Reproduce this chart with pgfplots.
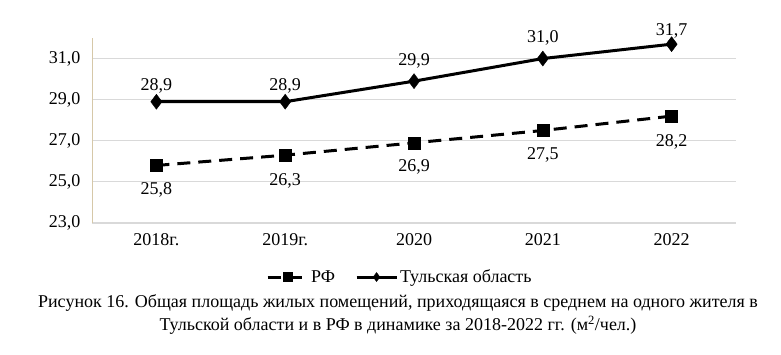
\documentclass[border=0pt]{standalone}
\usepackage{fontspec}
\setmainfont{Liberation Serif}
\usepackage{pgfplots}
\pgfplotsset{compat=1.18}
\definecolor{gridc}{RGB}{217,217,217}
\definecolor{axc}{RGB}{214,200,168}
\begin{document}
\begin{tikzpicture}[x=1pt,y=1pt]
\begin{axis}[name=ax, at={(0,0)}, anchor=south west,
  scale only axis, width=644pt, height=185pt,
  xmin=-0.5, xmax=4.5, ymin=23, ymax=32,
  xtick={0,1,2,3,4}, xticklabels={2018г.,2019г.,2020,2021,2022},
  ytick={23,25,27,29,31},
  axis y line*=left, axis x line*=bottom,
  x axis line style={draw=none},
  y axis line style={draw=axc, line width=0.8pt, -},
  major tick length=0pt,
  ymajorgrids, major grid style={color=gridc, line width=1.2pt},
  font=\fontsize{18}{21}\selectfont,
  /pgf/number format/assume math mode=true,
  yticklabel style={/pgf/number format/.cd, fixed, fixed zerofill, precision=1, use comma, /tikz/.cd, xshift=-8pt},
  xticklabel style={yshift=-7pt},
  nodes near coords,
  point meta=y,
  nodes near coords style={/pgf/number format/.cd, fixed, fixed zerofill, precision=1, use comma, /tikz/.cd, font=\fontsize{18}{21}\selectfont},
  legend style={at={(0.478,-0.292)}, anchor=center, draw=none, fill=none, legend columns=2, font=\fontsize{18}{21}\selectfont, /tikz/every even column/.append style={column sep=18pt}},
  legend image code/.code={\draw[mark repeat=2,mark phase=2,#1] plot coordinates {(0pt,0pt) (20pt,0pt) (40pt,0pt)};},
  legend image post style={mark size=4.5pt},
  clip=false,
]
\addplot[black, line width=3pt, dash pattern=on 13pt off 8pt, mark=square*, mark size=6pt, mark options={solid, line width=0.4pt},
  visualization depends on={value \thisrow{dy}\as\dy},
  nodes near coords style={anchor=north, yshift=\dy pt}]
  table[x=x,y=y] {
x y dy
0 25.8 -14
1 26.3 -15
2 26.9 -13
3 27.5 -14
4 28.2 -15
};
\addlegendentry{РФ}
\addplot[black, line width=3pt, mark=diamond*, mark size=7.5pt, mark options={line width=0.4pt},
  visualization depends on={value \thisrow{dy}\as\dy},
  nodes near coords style={anchor=south, yshift=\dy pt}]
  table[x=x,y=y] {
x y dy
0 28.9 5
1 28.9 5
2 29.9 9
3 31.0 10
4 31.7 2
};
\addlegendentry{Тульская область}
\end{axis}
\node[align=center, font=\fontsize{18}{23}\selectfont] at (306pt,-91.5pt) {Рисунок 16. Общая площадь жилых помещений, приходящаяся в среднем на одного жителя в\\Тульской области и в РФ в динамике за 2018-2022 гг. (м\textsuperscript{2}/чел.)};
\path[use as bounding box] (-92pt,223pt) rectangle (689pt,-132pt);
\end{tikzpicture}
\end{document}
